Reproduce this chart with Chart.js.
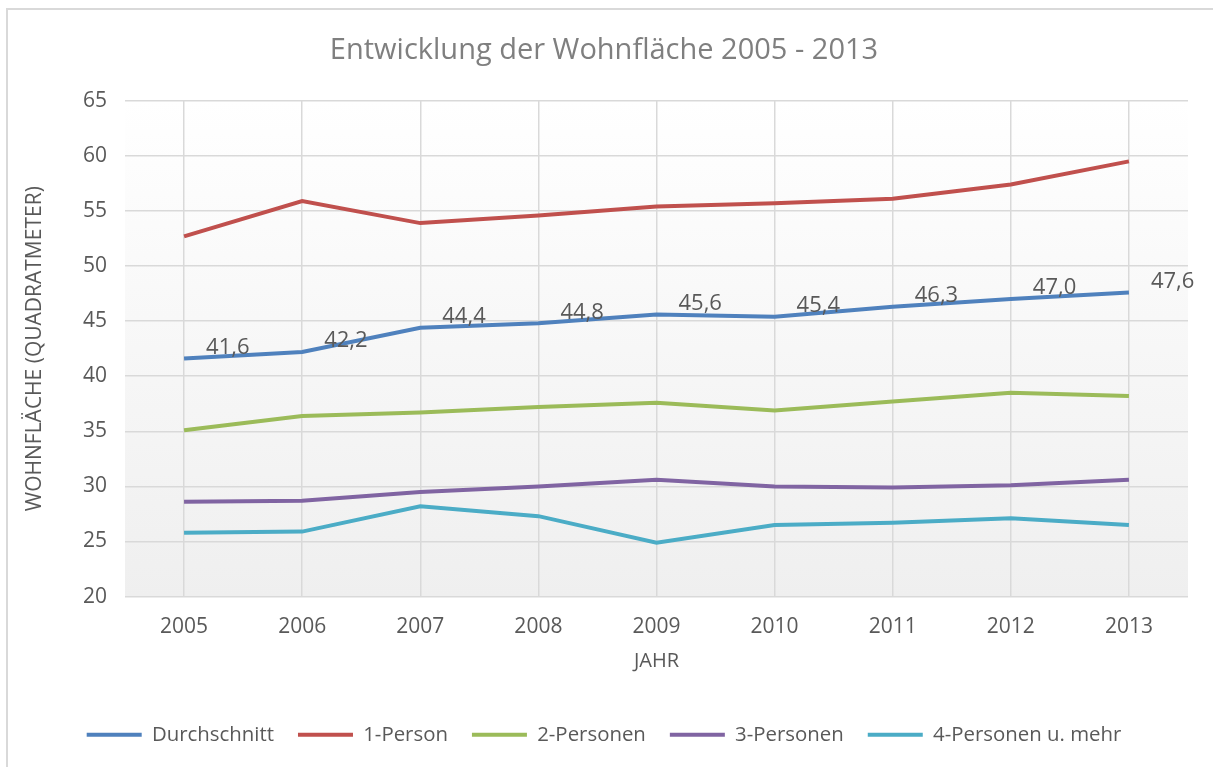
<!DOCTYPE html>
<html lang="de">
<head>
<meta charset="UTF-8">
<title>Entwicklung der Wohnfläche 2005 - 2013</title>
<script src="https://cdn.jsdelivr.net/npm/chart.js@4.4.0/dist/chart.umd.min.js"></script>
<style>
  html, body { margin: 0; padding: 0; background: #fff; }
  #wrap { position: relative; width: 1213px; height: 767px; }
  #frame { position: absolute; left: 6px; top: 8px; right: -10px; bottom: -10px;
           border-left: 2px solid #d9d9d9; border-top: 2px solid #d9d9d9; pointer-events: none; }
</style>
</head>
<body>
<div id="wrap">
  <canvas id="myChart" width="1213" height="767"></canvas>
  <div id="frame"></div>
</div>
<script>
const years = ['2005', '2006', '2007', '2008', '2009', '2010', '2011', '2012', '2013']
const durchschnitt = [41.6, 42.2, 44.4, 44.8, 45.6, 45.4, 46.3, 47.0, 47.6]
const einePerson = [52.7, 55.9, 53.9, 54.6, 55.4, 55.7, 56.1, 57.4, 59.5]
const zweiPersonen = [35.1, 36.4, 36.7, 37.2, 37.6, 36.9, 37.7, 38.5, 38.2]
const dreiPersonen = [28.6, 28.7, 29.5, 30.0, 30.6, 30.0, 29.9, 30.1, 30.6]
const vierPersonen = [25.8, 25.9, 28.2, 27.3, 24.9, 26.5, 26.7, 27.1, 26.5]

const FONT = "'Open Sans', sans-serif"
const TXT = '#595959'

function line(label, values, color) {
  return {
    label: label,
    data: values,
    borderColor: color,
    backgroundColor: color,
    borderWidth: 4,
    pointRadius: 0,
    pointHoverRadius: 0,
    tension: 0,
    fill: false
  }
}

// plot area gradient
const plotBg = {
  id: 'plotBg',
  beforeDraw(chart) {
    const { ctx, chartArea: a } = chart
    const g = ctx.createLinearGradient(0, a.top, 0, a.bottom)
    g.addColorStop(0, '#ffffff')
    g.addColorStop(1, '#efefef')
    ctx.save()
    ctx.fillStyle = g
    ctx.fillRect(a.left, a.top, a.right - a.left, a.bottom - a.top)
    ctx.restore()
  }
}

// value labels for Durchschnitt
const valueLabels = {
  id: 'valueLabels',
  afterDatasetsDraw(chart) {
    const ctx = chart.ctx
    const meta = chart.getDatasetMeta(0)
    ctx.save()
    ctx.font = '22px ' + FONT
    ctx.fillStyle = TXT
    ctx.textAlign = 'left'
    ctx.textBaseline = 'middle'
    meta.data.forEach((pt, i) => {
      const txt = durchschnitt[i].toFixed(1).replace('.', ',')
      ctx.fillText(txt, pt.x + 22, pt.y - 11)
    })
    ctx.restore()
  }
}

new Chart(document.getElementById('myChart'), {
  type: 'line',
  data: {
    labels: years,
    datasets: [
      line('Durchschnitt', durchschnitt, '#4f81bd'),
      line('1-Person', einePerson, '#c0504d'),
      line('2-Personen', zweiPersonen, '#9bbb59'),
      line('3-Personen', dreiPersonen, '#8064a2'),
      line('4-Personen u. mehr', vierPersonen, '#4bacc6')
    ]
  },
  options: {
    responsive: false,
    animation: false,
    layout: { padding: { left: 20, right: 25, top: 0, bottom: 12 } },
    plugins: {
      tooltip: { enabled: false },
      title: {
        display: true,
        text: 'Entwicklung der Wohnfläche 2005 - 2013',
        color: '#7f7f7f',
        font: { family: FONT, size: 29, weight: 'normal' },
        padding: { top: 33, bottom: 33 }
      },
      legend: {
        position: 'bottom',
        labels: {
          usePointStyle: true,
          pointStyle: 'line',
          pointStyleWidth: 55,
          boxWidth: 55,
          color: TXT,
          font: { family: FONT, size: 20.4 },
          padding: 24
        }
      }
    },
    scales: {
      x: {
        offset: true,
        border: { display: false },
        grid: { color: '#d9d9d9', lineWidth: 1.5, drawTicks: false },
        ticks: { color: TXT, font: { family: FONT, size: 21 }, padding: 18 },
        title: { display: true, text: 'JAHR', color: TXT, font: { family: FONT, size: 20 }, padding: { top: 4, bottom: 27 } },
        afterFit(scale) { scale.height = 104 }
      },
      y: {
        min: 20,
        max: 65,
        border: { display: false },
        grid: { color: '#d9d9d9', lineWidth: 1.5, drawTicks: false },
        ticks: { stepSize: 5, color: TXT, font: { family: FONT, size: 21 }, padding: 18 },
        title: { display: true, text: 'WOHNFLÄCHE (QUADRATMETER)', color: TXT, font: { family: FONT, size: 21 }, padding: { top: 2, bottom: 10 } },
        afterFit(scale) { scale.width = 105 }
      }
    }
  },
  plugins: [plotBg, valueLabels]
})
</script>
</body>
</html>
